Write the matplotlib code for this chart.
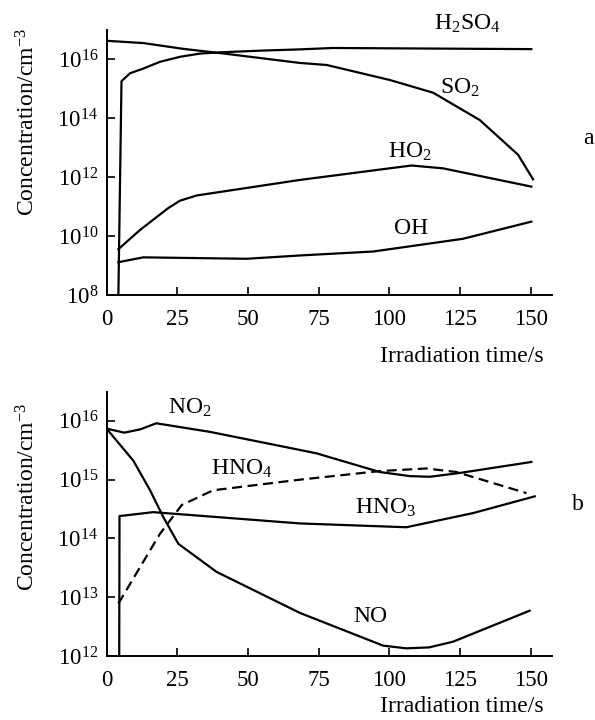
import numpy as np
import matplotlib
matplotlib.use("Agg")
import matplotlib.pyplot as plt
from matplotlib.ticker import NullLocator, FixedLocator

plt.rcParams['font.family'] = ['Liberation Serif', 'DejaVu Serif']
plt.rcParams['mathtext.fontset'] = 'custom'
plt.rcParams['mathtext.rm'] = 'Liberation Serif'
plt.rcParams['mathtext.it'] = 'Liberation Serif:italic'
plt.rcParams['font.size'] = 16

# panel a: S species, concentrations in cm^-3
t_h2so4 = [4.2, 5.3, 8.3, 13, 18.9, 26, 33, 40, 55, 68, 80, 150.2]
c_h2so4 = [1e8, 1.82e15, 3.39e15, 4.9e15, 8.3e15, 1.23e16, 1.58e16, 1.74e16, 2.0e16, 2.19e16, 2.45e16, 2.24e16]

t_so2 = [0, 13, 27, 41.2, 68.4, 77.8, 100.2, 115.5, 132, 145.5, 150.8]
c_so2 = [4.3e16, 3.6e16, 2.3e16, 1.6e16, 7.6e15, 6.5e15, 2.0e15, 7.4e14, 8.7e13, 5.8e12, 8.5e11]

t_ho2 = [4.2, 11.8, 21.8, 26, 31.9, 68.4, 107.8, 119, 150.2]
c_ho2 = [3.6e9, 1.6e10, 8.9e10, 1.6e11, 2.4e11, 8.1e11, 2.5e12, 2.0e12, 4.8e11]

t_oh = [4.2, 13, 49.5, 68.4, 94.3, 126, 150.2]
c_oh = [1.3e9, 1.9e9, 1.7e9, 2.2e9, 3.0e9, 8.1e9, 3.1e10]

# panel b: N species
t_no2 = [0, 6.3, 12, 17.6, 36.6, 68.4, 74.3, 96.6, 107.2, 114.3, 124.9, 150.2]
c_no2 = [7.4e15, 6.3e15, 7.2e15, 9.1e15, 6.5e15, 3.2e15, 2.8e15, 1.35e15, 1.15e15, 1.12e15, 1.3e15, 2.0e15]

t_no = [0, 9.5, 15.4, 20.1, 25.4, 38.9, 68.4, 97.8, 106, 114, 122.5, 149.6]
c_no = [7.4e15, 2.1e15, 6.6e14, 2.3e14, 8.1e13, 2.7e13, 5.4e12, 1.5e12, 1.35e12, 1.4e12, 1.75e12, 5.9e12]

t_hno3 = [4.5, 4.6, 16.5, 68.4, 106, 129.6, 151.4]
c_hno3 = [1e12, 2.4e14, 2.8e14, 1.8e14, 1.55e14, 2.7e14, 5.2e14]

t_hno4 = [4.2, 18.9, 26.6, 37.7, 68.4, 96.6, 113, 123.7, 148.5]
c_hno4 = [7.8e12, 1.2e14, 3.7e14, 6.6e14, 1.0e15, 1.4e15, 1.55e15, 1.35e15, 5.9e14]

xticks = [0, 25, 50, 75, 100, 125, 150]

fig = plt.figure(figsize=(5.95, 7.2), dpi=100)
W, H = 595., 720.
ax1 = fig.add_axes([106.5 / W, 1 - 295 / H, (552 - 106.5) / W, 265 / H])
ax2 = fig.add_axes([106.5 / W, 1 - 656 / H, (552 - 106.5) / W, 264 / H])

lw = 1.6
kw = dict(color='black', lw=lw, solid_joinstyle='round')
ax1.plot(t_h2so4, c_h2so4, **kw)
ax1.plot(t_so2, c_so2, **kw)
ax1.plot(t_ho2, c_ho2, **kw)
ax1.plot(t_oh, c_oh, **kw)

ax2.plot(t_no2, c_no2, **kw)
ax2.plot(t_no, c_no, **kw)
ax2.plot(t_hno3, c_hno3, **kw)
ax2.plot(t_hno4, c_hno4, color='black', lw=lw, dashes=(4.5, 2.5))

for ax in (ax1, ax2):
    ax.set_yscale('log')
    ax.set_xlim(0, 157.5)
    ax.set_xticks(xticks)
    ax.yaxis.set_minor_locator(NullLocator())
    for s in ('top', 'right'):
        ax.spines[s].set_visible(False)
    for s in ('left', 'bottom'):
        ax.spines[s].set_linewidth(1.4)
    ax.tick_params(direction='in', length=6, width=1.2, labelsize=16.5)
    ax.tick_params(axis='x', pad=10)
    ax.tick_params(axis='y', pad=6)

ax1.set_ylim(1e8, 1e17)
ax1.yaxis.set_major_locator(FixedLocator([1e8, 1e10, 1e12, 1e14, 1e16]))
ax2.set_ylim(1e12, 3.1e16)
ax2.yaxis.set_major_locator(FixedLocator([1e12, 1e13, 1e14, 1e15, 1e16]))

def fx(px):
    return px / W

def fy(py):
    return 1 - py / H

fs = 17
# axis titles
fig.text(fx(28), fy(122), 'Concentration/cm$^{-3}$', rotation=90, ha='center', va='center', fontsize=fs)
fig.text(fx(28), fy(497), 'Concentration/cm$^{-3}$', rotation=90, ha='center', va='center', fontsize=fs)
fig.text(fx(544), fy(357), 'Irradiation time/s', ha='right', va='center', fontsize=fs)
fig.text(fx(544), fy(707), 'Irradiation time/s', ha='right', va='center', fontsize=fs)

# curve labels
lab = dict(ha='center', va='center', fontsize=fs)
fig.text(fx(467), fy(24), 'H$_\\mathregular{2}$SO$_\\mathregular{4}$', **lab)
fig.text(fx(460), fy(88), 'SO$_\\mathregular{2}$', **lab)
fig.text(fx(410), fy(152), 'HO$_\\mathregular{2}$', **lab)
fig.text(fx(411), fy(228), 'OH', **lab)
fig.text(fx(588), fy(139), 'a', **lab)

fig.text(fx(190), fy(408), 'NO$_\\mathregular{2}$', **lab)
fig.text(fx(242), fy(469), 'HNO$_\\mathregular{4}$', **lab)
fig.text(fx(385), fy(508), 'HNO$_\\mathregular{3}$', **lab)
fig.text(fx(370), fy(617), 'NO', **lab)
fig.text(fx(578), fy(505), 'b', **lab)

fig.savefig('out.png', dpi=100)
